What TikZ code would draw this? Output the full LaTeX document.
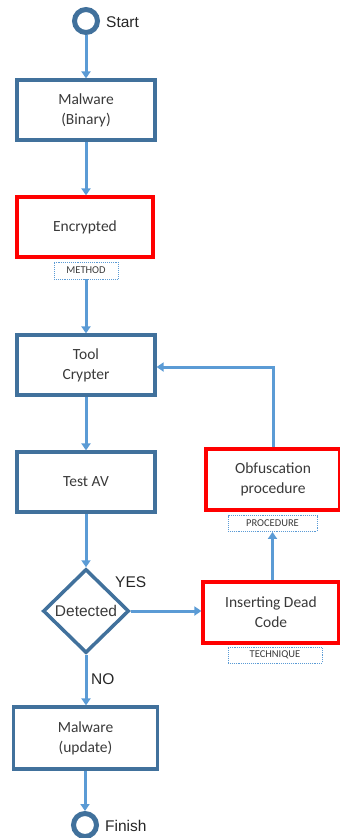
\documentclass[tikz,border=0pt]{standalone}
\usepackage{fontspec}
\setmainfont{Carlito}
\newfontfamily\arialf{Liberation Sans}
\usetikzlibrary{shapes.geometric,arrows.meta}
\definecolor{boxblue}{HTML}{41719C}
\definecolor{arrowblue}{HTML}{5B9BD5}
\definecolor{redb}{HTML}{FF0000}
\definecolor{txt}{HTML}{3A3A3A}
\tikzset{
  x=1pt,y=1pt,
  bluebox/.style={draw=boxblue,line width=3.2pt,minimum width=138pt,minimum height=60pt,align=center,font=\fontsize{15.5}{20}\selectfont,text=txt,inner sep=0pt},
  redbox/.style={draw=redb,line width=3.2pt,minimum width=136pt,minimum height=60pt,align=center,font=\fontsize{15.5}{20}\selectfont,text=txt,inner sep=0pt,fill=white},
  tag/.style={draw=arrowblue,densely dotted,line width=0.9pt,inner sep=0pt,font=\fontsize{10.5}{11}\selectfont,text=txt},
  term/.style={circle,draw=boxblue,line width=5pt,minimum size=23pt,inner sep=0pt},
  lab/.style={font=\arialf\fontsize{15.5}{17}\selectfont,text=black!85,inner sep=0pt},
  flow/.style={draw=arrowblue,line width=3pt,-{Triangle[length=7pt,width=9pt]}},
}
\begin{document}
\begin{tikzpicture}
\useasboundingbox (0,0) rectangle (340,-838);
% nodes
\node[term] (start) at (86,-21) {};
\node[lab,anchor=west] (startl) at (106,-22) {Start};
\node[bluebox] (b1) at (86,-110) {Malware\\(Binary)};
\node[redbox] (b2) at (85,-227) {Encrypted};
\node[tag,minimum width=64pt,minimum height=17pt] (method) at (86,-270.5) {METHOD};
\node[bluebox] (b3) at (86,-365) {Tool\\Crypter};
\node[bluebox] (b4) at (86,-482) {Test AV};
\node[diamond,draw=boxblue,line width=3.5pt,minimum width=86pt,minimum height=84pt,inner sep=0pt,font=\arialf\fontsize{15.5}{17}\selectfont,text=txt] (det) at (86,-611) {Detected};
\node[lab,anchor=west] (yes) at (115,-582) {YES};
\node[lab,anchor=west] (no) at (91,-679) {NO};
\node[bluebox,minimum width=144pt,minimum height=62pt] (b6) at (85.5,-738) {Malware\\(update)};
\node[term] (finish) at (85,-825) {};
\node[lab,anchor=west] (finl) at (105,-826) {Finish};
\node[redbox,minimum width=134pt,minimum height=61pt] (obf) at (273,-479.5) {Obfuscation\\procedure};
\node[tag,minimum width=89pt,minimum height=16pt] (proc) at (272.5,-523.5) {PROCEDURE};
\node[redbox,minimum width=136pt,minimum height=61pt] (ins) at (271,-612.5) {Inserting Dead\\Code};
\node[tag,minimum width=94pt,minimum height=16pt] (tech) at (275,-655) {TECHNIQUE};
\coordinate (corner) at (obf.north |- 0,-367);
% connectors
\draw[flow] (start) -- (b1);
\draw[flow] (b1.south) -- (b2.north -| b1.south);
\draw[flow] (method.south) -- (b3.north -| method.south);
\draw[flow] (b3) -- (b4);
\draw[flow] (b4) -- (det);
\draw[flow] (det.east) -- (ins.west |- det.east);
\draw[flow] (det.south) -- (b6.north -| det.south);
\draw[flow] (b6.south -| finish) -- (finish);
\draw[flow] (ins.north -| proc.south) -- (proc.south);
\draw[flow] (obf.north) -- (corner) -- (b3.east |- corner);
\end{tikzpicture}
\end{document}
